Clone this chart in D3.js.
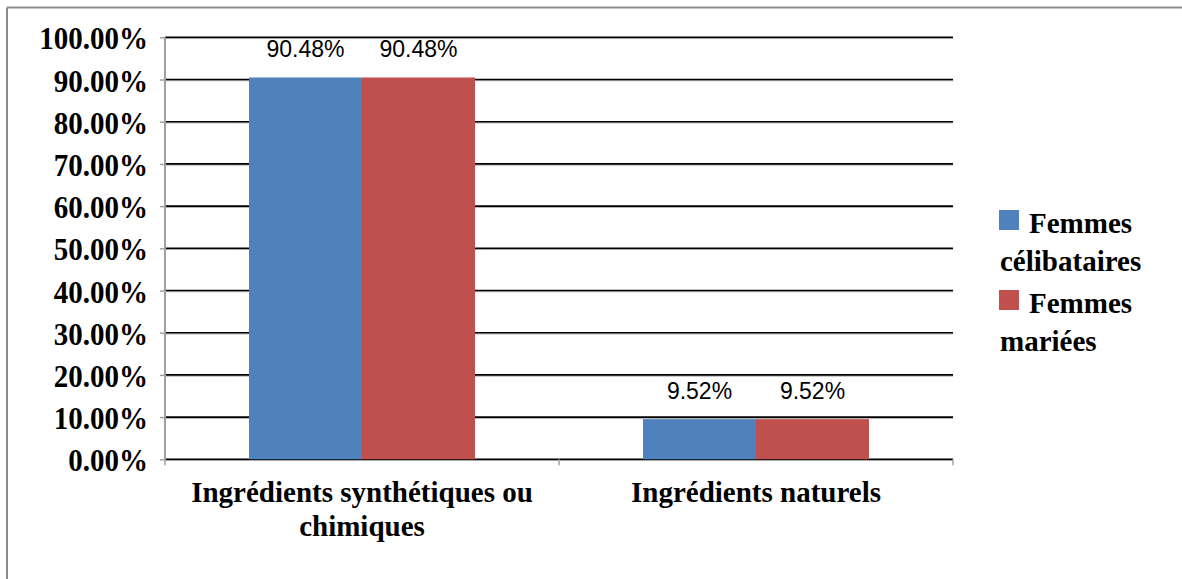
<!DOCTYPE html>
<html>
<head>
<meta charset="utf-8">
<script src="https://cdn.jsdelivr.net/npm/d3@7"></script>
<style>
  html, body { margin: 0; padding: 0; background: #fff; }
  svg { display: block; }
</style>
</head>
<body>
<svg id="chart" width="1182" height="579"></svg>
<script>
// Data
const categories = ["Ingrédients synthétiques ou chimiques", "Ingrédients naturels"];
const categoryLines = [["Ingrédients synthétiques ou", "chimiques"], ["Ingrédients naturels"]];
const seriesNames = ["Femmes célibataires", "Femmes mariées"];
const celibataires = [0.9048, 0.0952];
const mariees = [0.9048, 0.0952];
const seriesColors = ["#4f81bd", "#c0504d"];
const yTicks = [0, 0.1, 0.2, 0.3, 0.4, 0.5, 0.6, 0.7, 0.8, 0.9, 1.0];

const svg = d3.select("#chart");
const W = 1182, H = 579;
const plot = { left: 165, right: 953, top: 37.3, bottom: 459.3 };
const serif = "'Liberation Serif', 'Times New Roman', serif";

// Outer frame (only top and left edges fall inside the view)
svg.append("line").attr("x1", 7).attr("x2", W).attr("y1", 7.5).attr("y2", 7.5)
  .attr("stroke", "#8c8c8c").attr("stroke-width", 2);
svg.append("line").attr("x1", 7).attr("x2", 7).attr("y1", 7.5).attr("y2", H)
  .attr("stroke", "#8c8c8c").attr("stroke-width", 2);

const x0 = d3.scaleBand().domain(categories).range([plot.left, plot.right]).paddingInner(0).paddingOuter(0);
const bw = x0.bandwidth();
const gap = 84 / 394;
const x1 = d3.scaleBand().domain(seriesNames).range([bw * gap, bw * (1 - gap)]).padding(0);
const y = d3.scaleLinear().domain([0, 1]).range([plot.bottom, plot.top]);

// Gridlines
const grid = svg.append("g");
yTicks.forEach(t => {
  grid.append("line").attr("x1", plot.left).attr("x2", plot.right)
    .attr("y1", y(t) + 1.2).attr("y2", y(t) + 1.2)
    .attr("stroke", "#a6a6a6").attr("stroke-width", 1);
  grid.append("line").attr("x1", plot.left).attr("x2", plot.right)
    .attr("y1", y(t)).attr("y2", y(t))
    .attr("stroke", "#000").attr("stroke-width", 1.6);
});

// Y axis
const yAxis = d3.axisLeft(y).tickValues(yTicks).tickSize(5).tickPadding(12)
  .tickFormat(d => (d * 100).toFixed(2) + "%");
const yg = svg.append("g").attr("transform", `translate(${plot.left},0)`).call(yAxis);
yg.select(".domain").attr("stroke", "#a0a0a0").attr("stroke-width", 2)
  .attr("d", `M0,${plot.top}V${plot.bottom + 1}`);
yg.selectAll(".tick line").attr("stroke", "#a0a0a0").attr("stroke-width", 1.5);
yg.selectAll(".tick text")
  .attr("font-family", serif)
  .attr("font-weight", "bold").attr("font-size", 29).attr("fill", "#000")
  .attr("dy", "0.37em")
  .attr("transform", "scale(1,1.08)");

// X axis ticks at category boundaries
const xb = svg.append("g");
[plot.left, plot.left + bw, plot.right].forEach(xv => {
  xb.append("line").attr("x1", xv).attr("x2", xv).attr("y1", plot.bottom).attr("y2", plot.bottom + 6)
    .attr("stroke", "#a0a0a0").attr("stroke-width", 1.5);
});

// Bars with value labels
const rows = categories.map((c, i) => ({ cat: c, vals: [celibataires[i], mariees[i]] }));
const bars = svg.append("g");
rows.forEach(r => {
  r.vals.forEach((v, j) => {
    const bx = x0(r.cat) + x1(seriesNames[j]);
    bars.append("rect").attr("x", bx).attr("y", y(v))
      .attr("width", x1.bandwidth()).attr("height", plot.bottom - y(v))
      .attr("fill", seriesColors[j]);
    bars.append("text").attr("x", bx + x1.bandwidth() / 2).attr("y", y(v) - 20.5)
      .attr("text-anchor", "middle")
      .attr("font-family", "'Liberation Sans', Arial, sans-serif")
      .attr("font-size", 23).attr("fill", "#000")
      .text((v * 100).toFixed(2) + "%");
  });
});

// Category labels
const cl = svg.append("g");
categories.forEach((c, i) => {
  categoryLines[i].forEach((line, k) => {
    cl.append("text").attr("x", x0(c) + bw / 2).attr("y", 502 + k * 34)
      .attr("text-anchor", "middle")
      .attr("font-family", serif)
      .attr("font-weight", "bold").attr("font-size", 29).attr("fill", "#000")
      .text(line);
  });
});

// Legend
const legendLines = [["Femmes", "célibataires"], ["Femmes", "mariées"]];
const lg = svg.append("g");
seriesNames.forEach((s, i) => {
  const top = 210 + i * 80;
  lg.append("rect").attr("x", 999).attr("y", top).attr("width", 20).attr("height", 20)
    .attr("fill", seriesColors[i]);
  lg.append("text").attr("x", 1029).attr("y", top + 23)
    .attr("font-family", serif)
    .attr("font-weight", "bold").attr("font-size", 29).attr("fill", "#000")
    .text(legendLines[i][0]);
  lg.append("text").attr("x", 1000).attr("y", top + 61)
    .attr("font-family", serif)
    .attr("font-weight", "bold").attr("font-size", 29).attr("fill", "#000")
    .text(legendLines[i][1]);
});
</script>
</body>
</html>
